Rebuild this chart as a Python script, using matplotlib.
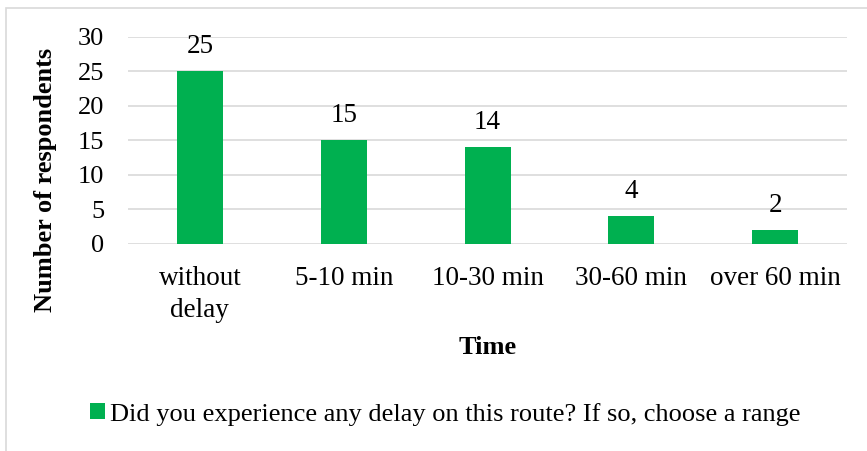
import matplotlib.pyplot as plt
from matplotlib.patches import Rectangle

categories = ['without\ndelay', '5-10 min', '10-30 min', '30-60 min', 'over 60 min']
respondents = [25, 15, 14, 4, 2]
series_name = 'Did you experience any delay on this route? If so, choose a range'

plt.rcParams['font.family'] = ['Liberation Serif', 'DejaVu Serif']

fig = plt.figure(figsize=(8.67, 4.51), dpi=100)
ax = fig.add_axes([0.1476, 0.459, 0.8294, 0.459])

x = range(len(categories))
bars = ax.bar(x, respondents, width=0.32, color='#00B050', label=series_name, zorder=3)

for xi, v in zip(x, respondents):
    ax.annotate(str(v), (xi, v), xytext=(0, 9), textcoords='offset points',
                ha='center', va='bottom', fontsize=19.5)

ax.set_ylim(0, 30)
ax.set_xlim(-0.5, len(categories) - 0.5)
ax.set_yticks(range(0, 31, 5))
ax.set_xticks(list(x))
ax.set_xticklabels(categories, fontsize=19.5, linespacing=1.38)
ax.tick_params(axis='y', labelsize=19, length=0, pad=17)
ax.tick_params(axis='x', length=0, pad=16)
ax.grid(axis='y', color='#d9d9d9', linewidth=1.2, zorder=0)
for s in ax.spines.values():
    s.set_visible(False)

ax.set_xlabel('Time', fontsize=19, fontweight='bold', labelpad=9)
ax.set_ylabel('Number of respondents', fontsize=19, fontweight='bold')
ax.yaxis.set_label_coords(-0.099, 0.309)

fig.legend(handles=[bars], labels=[series_name], loc='center', bbox_to_anchor=(0.514, 0.082),
           frameon=False, fontsize=19, handlelength=0.55, handleheight=0.55,
           handletextpad=0.2, borderaxespad=0)

# outer chart frame
fig.add_artist(Rectangle((6 / 867, -0.01), 1.0, 1 - 8 / 451 + 0.01, transform=fig.transFigure,
                         fill=False, edgecolor='#d9d9d9', linewidth=1.2))

fig.savefig('out.png', dpi=100)
